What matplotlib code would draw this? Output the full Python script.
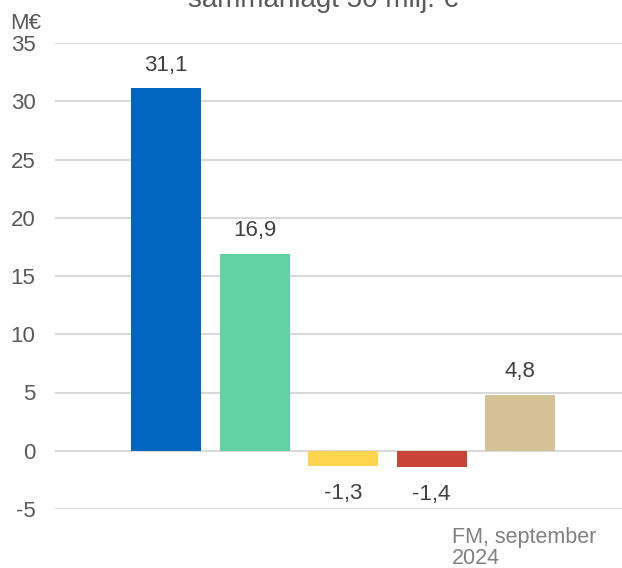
import matplotlib
matplotlib.use("Agg")
import matplotlib.pyplot as plt

plt.rcParams['font.family'] = ['Liberation Sans', 'DejaVu Sans']
plt.rcParams['axes.unicode_minus'] = False

# Data
categories = ["A", "B", "C", "D", "E"]
values = [31.1, 16.9, -1.3, -1.4, 4.8]
labels = ["31,1", "16,9", "-1,3", "-1,4", "4,8"]
colors = ["#0066C0", "#62D2A2", "#FFD54F", "#C94436", "#D4C196"]
yticks = [-5, 0, 5, 10, 15, 20, 25, 30, 35]

fig = plt.figure(figsize=(6.22, 5.68), dpi=100)
ax = fig.add_axes([55 / 622, 1 - 509 / 568, 1 - 55 / 622, (509 - 43) / 568])

pos = list(range(len(categories)))
ax.bar(pos, values, width=0.79, color=colors, zorder=3)

# value labels
for x, v, lab in zip(pos, values, labels):
    if v >= 0:
        ax.annotate(lab, (x, v), xytext=(0, 9), textcoords='offset points',
                    ha='center', va='bottom', fontsize=16, color='#404040')
    else:
        ax.annotate(lab, (x, v), xytext=(0, -12), textcoords='offset points',
                    ha='center', va='top', fontsize=16, color='#404040')

ax.set_xlim(-1.254, 5.15)
ax.set_ylim(-5, 35)
ax.set_yticks(yticks)
ax.set_xticks([])
ax.grid(axis='y', color='#D9D9D9', linewidth=1.5, zorder=0)
for s in ax.spines.values():
    s.set_visible(False)
ax.tick_params(axis='y', length=0, pad=14, labelsize=16, labelcolor='#595959')

fig.text(10 / 622, 1 - 29 / 568, "M€", fontsize=16, color='#595959', va='baseline')
fig.text(323 / 622, 1 - 7 / 568, "sammanlagt 50 milj. €", fontsize=20,
         color='#595959', ha='center', va='baseline')
fig.text(452 / 622, 1 - 564 / 568, "FM, september\n2024", fontsize=15.5,
         color='#808080', ha='left', va='baseline', linespacing=1.0)

fig.savefig("out.png", dpi=100)
